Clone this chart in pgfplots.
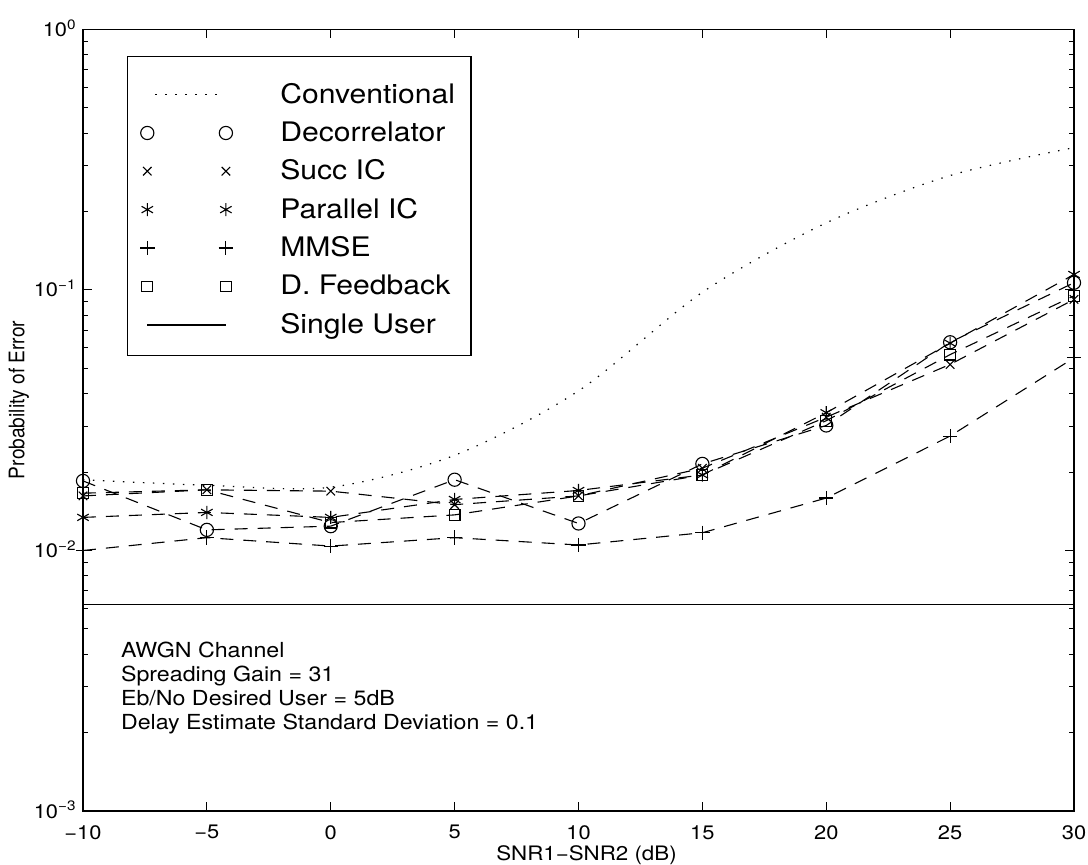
\documentclass[border=0pt]{standalone}
\usepackage{fontspec}
\setmainfont[FakeStretch=1.12]{TeX Gyre Heros}
\newfontfamily\ylabfont{TeX Gyre Heros}
\usepackage{graphicx}
\usepackage{pgfplots}
\pgfplotsset{compat=1.18}
\pgfplotsset{
  myleg/.style={legend image code/.code={%
    \path[draw=none,fill=none] (-4bp,-7.25bp) rectangle (43.5bp,11.45bp);
    \draw[##1] plot coordinates {(0bp,0bp) (39.3bp,0bp)};}},
  dotleg/.style={legend image code/.code={%
    \path[draw=none,fill=none] (-4bp,-7.25bp) rectangle (43.5bp,11.45bp);
    \draw[##1] plot coordinates {(4bp,0bp) (36bp,0bp)};}},
  dsh/.style={black, line width=0.55bp, dash pattern=on 6.5bp off 5bp, mark options={solid, line width=0.55bp}},
}
\begin{document}
\begin{tikzpicture}
\path[use as bounding box] (-41.5bp,-27bp) rectangle (502.5bp,405.5bp);
\begin{axis}[
  at={(0,0)}, anchor=south west,
  scale only axis, width=495.5bp, height=390.75bp,
  xmin=-10, xmax=30, ymin=1e-3, ymax=1, ymode=log,
  xtick={-10,-5,...,30},
  xticklabels={\char"2212 10,\char"2212 5,0,5,10,15,20,25,30},
  ytick={1e-3,1e-2,1e-1,1},
  yticklabels={10\textsuperscript{\char"2212 3},10\textsuperscript{\char"2212 2},10\textsuperscript{\char"2212 1},10\textsuperscript{0}},
  minor ytick={2e-3,3e-3,4e-3,5e-3,6e-3,7e-3,8e-3,9e-3,2e-2,3e-2,4e-2,5e-2,6e-2,7e-2,8e-2,9e-2,0.2,0.3,0.4,0.5,0.6,0.7,0.8,0.9},
  tick align=inside,
  major tick length=4.5bp, minor tick length=2.5bp,
  axis line style={line width=0.6bp},
  every tick/.style={black, line width=0.5bp},
  xticklabel style={font=\fontsize{9.8}{11}\selectfont, inner sep=0pt, anchor=north, yshift=-7bp},
  yticklabel style={font=\fontsize{9.8}{11}\selectfont, inner sep=0pt, anchor=base east, xshift=-3bp, yshift=-3.5bp},
  xlabel={SNR1\char"2212 SNR2 (dB)},
  xlabel style={font=\fontsize{10}{11}\selectfont, at={(axis description cs:0.5,0)}, anchor=base, inner sep=0pt, yshift=-24.5bp, xshift=4bp},
  legend cell align=left,
  legend style={at={(0.0441,0.9665)}, anchor=north west, draw=black, line width=0.6bp, fill=white,
    inner xsep=6bp, inner ysep=7.7bp, row sep=0pt,
    font=\fontsize{13.5}{15}\selectfont,
    /tikz/every odd column/.append style={column sep=21bp}},
  clip=false,
]
% legend images
\addlegendimage{dotleg, black, line width=0.6bp, dash pattern=on 0.7bp off 4.3bp}
\addlegendentry{Conventional}
\addlegendimage{myleg, black, only marks, mark=o, mark size=3.3bp, line width=0.55bp}
\addlegendentry{Decorrelator}
\addlegendimage{myleg, black, only marks, mark=x, mark size=3bp, line width=0.55bp}
\addlegendentry{Succ IC}
\addlegendimage{myleg, black, only marks, mark=asterisk, mark size=3.3bp, line width=0.55bp}
\addlegendentry{Parallel IC}
\addlegendimage{myleg, black, only marks, mark=+, mark size=3.6bp, line width=0.55bp}
\addlegendentry{MMSE}
\addlegendimage{myleg, black, only marks, mark=square, mark size=2.7bp, line width=0.55bp}
\addlegendentry{D. Feedback}
\addlegendimage{myleg, black, line width=0.9bp}
\addlegendentry{Single User}

% Conventional
\addplot[forget plot, black, line width=0.6bp, dash pattern=on 0.7bp off 4.3bp, smooth, tension=0.5] coordinates {
(-10,0.0187) (-5,0.0178) (0,0.0175) (5,0.0232) (10,0.041) (15,0.098) (20,0.181) (25,0.275) (30,0.352)};
% Decorrelator
\addplot[forget plot, dsh, mark=o, mark size=3.3bp] coordinates {
(-10,0.0185) (-5,0.0120) (0,0.0124) (5,0.0187) (10,0.0127) (15,0.0215) (20,0.0302) (25,0.0630) (30,0.1066)};
% Succ IC
\addplot[forget plot, dsh, mark=x, mark size=3bp] coordinates {
(-10,0.0162) (-5,0.0171) (0,0.0169) (5,0.0150) (10,0.0162) (15,0.0207) (20,0.0325) (25,0.0518) (30,0.0920)};
% Parallel IC
\addplot[forget plot, dsh, mark=asterisk, mark size=3.3bp] coordinates {
(-10,0.0134) (-5,0.0140) (0,0.0134) (5,0.0157) (10,0.0170) (15,0.0195) (20,0.0338) (25,0.0625) (30,0.1147)};
% MMSE
\addplot[forget plot, dsh, mark=+, mark size=3.6bp] coordinates {
(-10,0.0100) (-5,0.0112) (0,0.0104) (5,0.0112) (10,0.0105) (15,0.0117) (20,0.0159) (25,0.0275) (30,0.0549)};
% D. Feedback
\addplot[forget plot, dsh, mark=square, mark size=2.7bp] coordinates {
(-10,0.0166) (-5,0.0171) (0,0.0128) (5,0.0137) (10,0.0162) (15,0.0195) (20,0.0315) (25,0.0565) (30,0.0950)};
% Single user
\addplot[forget plot, black, line width=0.9bp] coordinates {(-10,0.0062) (30,0.0062)};

\node[anchor=north west, align=left, inner sep=0pt, font=\fontsize{10.4}{12}\selectfont]
  at (rel axis cs:0.038,0.2163) {AWGN Channel\\Spreading Gain = 31\\Eb/No Desired User = 5dB\\Delay Estimate Standard Deviation = 0.1};
\node[rotate=90, anchor=center, inner sep=0pt, font=\fontsize{9.6}{11}\ylabfont]
  at (rel axis cs:-0.0646,0.526) {\scalebox{1}[1.12]{Probability of Error}};
\end{axis}
\end{tikzpicture}
\end{document}
